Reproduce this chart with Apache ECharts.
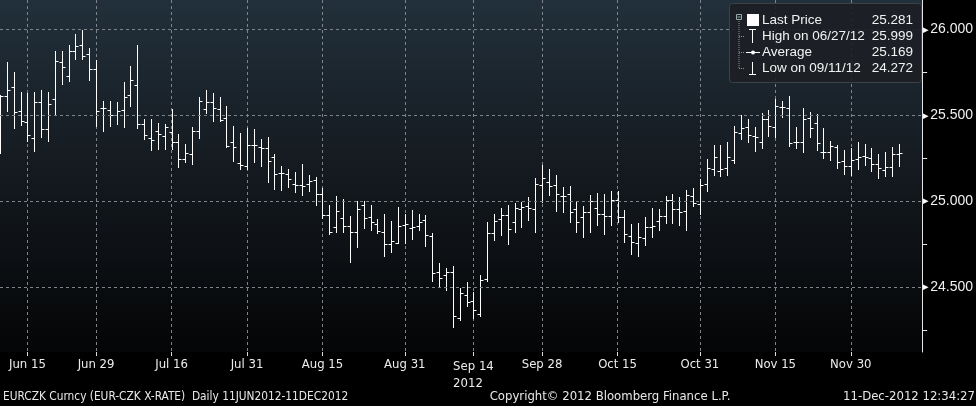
<!DOCTYPE html>
<html><head><meta charset="utf-8">
<script src="https://cdn.jsdelivr.net/npm/echarts@6/dist/echarts.min.js"></script>
<style>html,body{margin:0;padding:0;background:#000}#c{width:976px;height:406px}</style>
</head><body><div id="c"></div>
<script>
// Business days 11 Jun 2012 - 11 Dec 2012
const dates = [
'06/11','06/12','06/13','06/14','06/15','06/18','06/19','06/20','06/21','06/22','06/25','06/26','06/27','06/28','06/29',
'07/02','07/03','07/04','07/05','07/06','07/09','07/10','07/11','07/12','07/13','07/16','07/17','07/18','07/19','07/20','07/23','07/24','07/25','07/26','07/27','07/30','07/31',
'08/01','08/02','08/03','08/06','08/07','08/08','08/09','08/10','08/13','08/14','08/15','08/16','08/17','08/20','08/21','08/22','08/23','08/24','08/27','08/28','08/29','08/30','08/31',
'09/03','09/04','09/05','09/06','09/07','09/10','09/11','09/12','09/13','09/14','09/17','09/18','09/19','09/20','09/21','09/24','09/25','09/26','09/27','09/28',
'10/01','10/02','10/03','10/04','10/05','10/08','10/09','10/10','10/11','10/12','10/15','10/16','10/17','10/18','10/19','10/22','10/23','10/24','10/25','10/26','10/29','10/30','10/31',
'11/01','11/02','11/05','11/06','11/07','11/08','11/09','11/12','11/13','11/14','11/15','11/16','11/19','11/20','11/21','11/22','11/23','11/26','11/27','11/28','11/29','11/30',
'12/03','12/04','12/05','12/06','12/07','12/10','12/11'];

const opens = [
25.609,25.613,25.666,25.526,25.460,25.367,25.576,25.419,25.596,25.813,
25.730,25.875,25.910,25.858,25.772,25.541,25.530,25.503,25.530,25.617,
25.675,25.448,25.367,25.410,25.382,25.402,25.348,25.245,25.275,25.410,
25.536,25.576,25.536,25.483,25.347,25.222,25.208,25.328,25.318,25.313,
25.258,25.167,25.158,25.099,25.094,25.103,25.125,25.045,24.921,24.849,
24.905,24.855,24.824,24.979,24.911,24.867,24.824,24.750,24.760,24.863,
24.847,24.859,24.892,24.801,24.587,24.572,24.587,24.324,24.456,24.421,
24.343,24.549,24.814,24.898,24.921,24.882,24.956,24.975,24.956,25.095,
25.111,25.095,25.031,25.041,24.956,24.907,24.936,24.960,24.925,24.915,
25.008,24.911,24.799,24.756,24.789,24.853,24.888,24.915,25.008,24.954,
24.944,25.031,24.985,25.099,25.187,25.177,25.192,25.241,25.396,25.435,
25.380,25.344,25.479,25.435,25.551,25.545,25.344,25.344,25.487,25.454,
25.289,25.289,25.318,25.235,25.206,25.245,25.266,25.254,25.216,25.183,
25.202,25.274];
const highs = [
25.620,25.813,25.753,25.636,25.629,25.638,25.648,25.638,25.875,25.875,
25.910,25.974,25.999,25.890,25.825,25.584,25.584,25.578,25.697,25.790,
25.910,25.477,25.477,25.458,25.450,25.540,25.394,25.334,25.435,25.609,
25.648,25.632,25.609,25.555,25.439,25.400,25.425,25.419,25.365,25.373,
25.274,25.206,25.187,25.169,25.218,25.154,25.142,25.076,24.979,25.031,
25.012,24.915,25.002,25.002,24.979,24.898,24.925,24.886,24.966,24.925,
24.950,24.925,24.921,24.814,24.640,24.611,24.624,24.498,24.533,24.475,
24.572,24.882,24.925,24.964,24.979,24.989,24.998,25.027,25.134,25.212,
25.189,25.154,25.082,25.090,25.002,24.973,25.037,25.047,25.043,25.062,
25.062,24.950,24.867,24.876,24.907,24.960,24.954,25.031,25.041,25.024,
25.066,25.076,25.128,25.245,25.328,25.328,25.344,25.439,25.503,25.479,
25.435,25.512,25.532,25.596,25.584,25.613,25.431,25.545,25.522,25.506,
25.429,25.351,25.328,25.299,25.309,25.344,25.334,25.313,25.274,25.285,
25.317,25.332];
const lows = [
25.284,25.526,25.429,25.444,25.351,25.293,25.377,25.351,25.510,25.683,
25.702,25.827,25.827,25.708,25.441,25.412,25.441,25.452,25.431,25.557,
25.429,25.365,25.301,25.307,25.307,25.305,25.202,25.231,25.218,25.371,
25.512,25.469,25.468,25.318,25.237,25.189,25.189,25.227,25.206,25.115,
25.070,25.066,25.084,25.057,25.037,25.063,24.981,24.902,24.808,24.820,
24.824,24.649,24.737,24.843,24.834,24.814,24.684,24.708,24.756,24.758,
24.779,24.834,24.743,24.537,24.510,24.485,24.272,24.310,24.392,24.324,
24.335,24.537,24.775,24.805,24.752,24.824,24.853,24.892,24.824,24.998,
25.037,24.946,24.940,24.882,24.824,24.795,24.824,24.863,24.810,24.863,
24.880,24.766,24.694,24.684,24.746,24.795,24.834,24.876,24.876,24.863,
24.834,24.975,24.927,25.062,25.154,25.150,25.154,25.225,25.361,25.347,
25.293,25.312,25.382,25.377,25.493,25.322,25.309,25.289,25.377,25.299,
25.254,25.241,25.192,25.157,25.154,25.187,25.212,25.177,25.138,25.150,
25.148,25.206];
const closes = [
25.615,25.646,25.518,25.470,25.386,25.578,25.419,25.565,25.819,25.780,
25.875,25.904,25.848,25.772,25.526,25.541,25.503,25.526,25.607,25.706,
25.448,25.386,25.357,25.390,25.435,25.348,25.245,25.280,25.410,25.584,
25.576,25.541,25.474,25.322,25.318,25.210,25.328,25.328,25.313,25.235,
25.158,25.167,25.130,25.094,25.090,25.119,25.045,24.921,24.824,24.944,
24.859,24.824,24.954,24.902,24.878,24.828,24.750,24.772,24.859,24.867,
24.853,24.882,24.805,24.582,24.552,24.587,24.333,24.469,24.417,24.368,
24.541,24.814,24.886,24.921,24.839,24.960,24.967,24.960,25.099,25.134,
25.092,25.041,25.031,24.940,24.882,24.936,25.004,24.925,24.915,25.008,
24.907,24.808,24.762,24.795,24.853,24.857,24.915,25.008,24.954,24.940,
25.037,24.989,25.095,25.192,25.260,25.188,25.260,25.406,25.425,25.386,
25.377,25.479,25.440,25.555,25.551,25.338,25.344,25.479,25.429,25.338,
25.285,25.324,25.227,25.206,25.241,25.260,25.260,25.216,25.196,25.202,
25.274,25.281];

const xTickDates = ['06/15','06/29','07/16','07/31','08/15','08/31','09/14','09/28','10/15','10/31','11/15','11/30'];
const xTickLabels = ['Jun 15','Jun 29','Jul 16','Jul 31','Aug 15','Aug 31','Sep 14','Sep 28','Oct 15','Oct 31','Nov 15','Nov 30'];
const yearLabel = '2012';
const yMajor = [24.5, 25.0, 25.5, 26.0];
const yMinor = [24.25, 24.75, 25.25, 25.75];
const lastPrice = 25.281;

const legendNames = ['Last Price', 'High on 06/27/12', 'Average', 'Low on 09/11/12'];
const legendValues = ['25.281', '25.999', '25.169', '24.272'];
const footerLeft = 'EURCZK Curncy (EUR-CZK X-RATE)  Daily 11JUN2012-11DEC2012';
const footerMid = 'Copyright\u00a9 2012 Bloomberg Finance L.P.';
const footerRight = '11-Dec-2012 12:34:27';

const ohlc = dates.map((d, i) => [i, opens[i], closes[i], lows[i], highs[i]]);
const xTickIdx = xTickDates.map(d => dates.indexOf(d));

const NARROW = "'Liberation Sans Narrow','DejaVu Sans Condensed','Arial Narrow',sans-serif";
const SANS = "'Liberation Sans',Arial,sans-serif";

const chart = echarts.init(document.getElementById('c'), null, {renderer: 'canvas'});

const legendRowY = [20.5, 36.5, 52.5, 68.5];
const graphics = [
  {type: 'rect', left: 729, top: 3, shape: {width: 192, height: 79, r: 3},
   style: {fill: 'rgba(28,32,37,0.92)', stroke: '#3c4248', lineWidth: 1}, z: 10},
  {type: 'rect', shape: {x: 736.5, y: 14.5, width: 5, height: 5}, style: {fill: 'none', stroke: '#9aa', lineWidth: 1}, z: 11},
  {type: 'line', shape: {x1: 737.5, y1: 17, x2: 740.5, y2: 17}, style: {stroke: '#9aa', lineWidth: 1}, z: 11},
  {type: 'line', shape: {x1: 739, y1: 21, x2: 739, y2: 69}, style: {stroke: '#8a9095', lineWidth: 1, lineDash: [1, 1]}, z: 11},
  {type: 'line', shape: {x1: 739, y1: 36.5, x2: 745, y2: 36.5}, style: {stroke: '#8a9095', lineWidth: 1, lineDash: [1, 1]}, z: 11},
  {type: 'line', shape: {x1: 739, y1: 52.5, x2: 745, y2: 52.5}, style: {stroke: '#8a9095', lineWidth: 1, lineDash: [1, 1]}, z: 11},
  {type: 'line', shape: {x1: 739, y1: 68.5, x2: 745, y2: 68.5}, style: {stroke: '#8a9095', lineWidth: 1, lineDash: [1, 1]}, z: 11},
  {type: 'rect', shape: {x: 747, y: 14, width: 12, height: 12}, style: {fill: '#fff'}, z: 11},
  {type: 'line', shape: {x1: 752.5, y1: 29, x2: 752.5, y2: 43}, style: {stroke: '#fff', lineWidth: 1}, z: 11},
  {type: 'line', shape: {x1: 749, y1: 29.5, x2: 756, y2: 29.5}, style: {stroke: '#fff', lineWidth: 1}, z: 11},
  {type: 'line', shape: {x1: 746, y1: 52.5, x2: 760, y2: 52.5}, style: {stroke: '#fff', lineWidth: 1}, z: 11},
  {type: 'circle', shape: {cx: 753, cy: 52.5, r: 2}, style: {fill: '#fff'}, z: 11},
  {type: 'line', shape: {x1: 752.5, y1: 62, x2: 752.5, y2: 75}, style: {stroke: '#fff', lineWidth: 1}, z: 11},
  {type: 'line', shape: {x1: 749, y1: 74.5, x2: 756, y2: 74.5}, style: {stroke: '#fff', lineWidth: 1}, z: 11}
];
legendNames.forEach((n, k) => {
  graphics.push({type: 'text', x: 762, y: legendRowY[k], z: 12,
    style: {text: n, fill: '#f2f2f2', font: '13.5px ' + SANS, textVerticalAlign: 'middle', textAlign: 'left'}});
  graphics.push({type: 'text', x: 913, y: legendRowY[k], z: 12,
    style: {text: legendValues[k], fill: '#f2f2f2', font: '13.5px ' + SANS, textVerticalAlign: 'middle', textAlign: 'right'}});
});
graphics.push({type: 'text', x: 3, y: 397, style: {text: footerLeft, fill: '#e8e8e8', font: '11.8px ' + NARROW, textVerticalAlign: 'middle', textAlign: 'left'}});
graphics.push({type: 'text', x: 610, y: 397, style: {text: footerMid, fill: '#e8e8e8', font: '13px ' + NARROW, textVerticalAlign: 'middle', textAlign: 'center'}});
graphics.push({type: 'text', x: 975, y: 397, style: {text: footerRight, fill: '#e8e8e8', font: '13px ' + NARROW, textVerticalAlign: 'middle', textAlign: 'right'}});

const gridLines = yMajor.map(v => ({yAxis: v, label: {show: false},
  lineStyle: {color: '#7e8489', type: [3, 3], width: 1}}));
gridLines.push({yAxis: lastPrice,
  lineStyle: {opacity: 0},
  label: {show: true, position: 'end', distance: 1,
    formatter: '{t|\u25C0}{v|' + lastPrice.toFixed(3) + '}',
    rich: {t: {color: '#fff', fontSize: 11, padding: [0, 0, 0, 0]},
           v: {color: '#fff', fontSize: 14, fontFamily: SANS, backgroundColor: '#000',
               borderColor: '#fff', borderWidth: 1, padding: [1, 2, 0, 2]}}}});

const option = {
  backgroundColor: '#000',
  animation: false,
  grid: {
    left: 0, right: 52, top: 0, bottom: 54,
    show: true, borderWidth: 0,
    backgroundColor: {type: 'linear', x: 0, y: 0, x2: 0, y2: 1,
      colorStops: [{offset: 0, color: '#22303b'}, {offset: 0.45, color: '#151b21'}, {offset: 1, color: '#040506'}]}
  },
  xAxis: {
    type: 'value', min: 0, max: 134.4,
    axisLine: {show: false, onZero: false},
    axisTick: {show: true, customValues: xTickIdx, length: 4, lineStyle: {color: '#ddd'}},
    axisLabel: {
      customValues: xTickIdx, color: '#ececec', fontSize: 13, fontFamily: NARROW, margin: 6,
      formatter: v => {
        const k = xTickIdx.indexOf(Math.round(v));
        const t = xTickLabels[k];
        if (t === 'Sep 14') return '{a|' + t + '}\n{b|' + yearLabel + '}';
        return t;
      },
      rich: {a: {color: '#ececec', fontSize: 13, fontFamily: NARROW, lineHeight: 17},
             b: {color: '#ececec', fontSize: 13, fontFamily: NARROW, lineHeight: 17, align: 'left'}}
    },
    splitLine: {show: true, lineStyle: {color: '#7e8489', type: [3, 3], width: 1}}
  },
  yAxis: {
    type: 'value', position: 'right', min: 24.124, max: 26.172,
    axisLine: {show: true, onZero: false, lineStyle: {color: '#e6e6e6', width: 1}},
    axisTick: {show: true, customValues: yMinor, length: 5, lineStyle: {color: '#e6e6e6'}},
    axisLabel: {customValues: yMajor, margin: 1, color: '#f0f0f0', fontSize: 14, fontFamily: SANS,
      formatter: v => '{t|\u25B8}{v|' + v.toFixed(3) + '}',
      rich: {t: {color: '#fff', fontSize: 11, padding: [0, 1, 0, 0]}, v: {color: '#f0f0f0', fontSize: 14, fontFamily: SANS}}},
    splitLine: {show: false}
  },
  graphic: graphics,
  series: [{
    type: 'custom',
    clip: true,
    data: ohlc,
    encode: {x: 0, y: [1, 2, 3, 4]},
    markLine: {silent: true, symbol: 'none', animation: false, data: gridLines},
    renderItem: (params, api) => {
      const i = api.value(0);
      const o = api.coord([i, api.value(1)]);
      const c = api.coord([i, api.value(2)]);
      const l = api.coord([i, api.value(3)]);
      const h = api.coord([i, api.value(4)]);
      const x = Math.round(o[0]) + 0.5;
      const st = {stroke: '#ffffff', lineWidth: 1};
      return {type: 'group', children: [
        {type: 'line', shape: {x1: x, y1: Math.round(h[1]), x2: x, y2: Math.round(l[1]) + 1}, style: st},
        {type: 'line', shape: {x1: x - 3, y1: Math.round(o[1]) + 0.5, x2: x, y2: Math.round(o[1]) + 0.5}, style: st},
        {type: 'line', shape: {x1: x, y1: Math.round(c[1]) + 0.5, x2: x + 3, y2: Math.round(c[1]) + 0.5}, style: st}
      ]};
    }
  }]
};
chart.setOption(option);
</script></body></html>
